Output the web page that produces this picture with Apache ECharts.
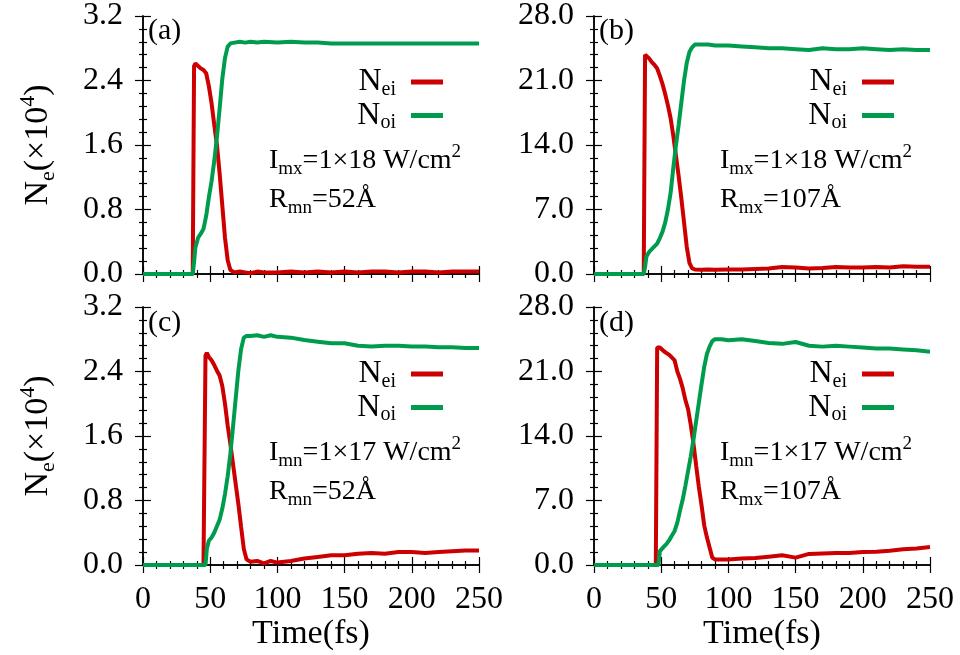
<!DOCTYPE html>
<html>
<head>
<meta charset="utf-8">
<script src="https://cdn.jsdelivr.net/npm/echarts@6/dist/echarts.min.js"></script>
<style>
html,body{margin:0;padding:0;background:#fff;}
#main{width:960px;height:655px;}
</style>
</head>
<body>
<div id="main"></div>
<script>
// ---------- data ----------
const xTicks = [0, 50, 100, 150, 200, 250];
const ySmallTicks = [0.0, 0.8, 1.6, 2.4, 3.2];
const yLargeTicks = [0.0, 7.0, 14.0, 21.0, 28.0];

// panel (a)
const tA   = [0,10,20,30,37,38,39,41,43,45,47,49,51,53,55,57,59,61,63,65,68,72,76,80,85,90,100,110,120,130,140,150,160,170,180,190,200,210,220,230,240,250];
const neiA = [0,0,0,0,0,2.58,2.61,2.58,2.55,2.53,2.49,2.33,2.12,1.85,1.60,1.25,0.85,0.45,0.17,0.05,0.02,0.03,0.02,0.01,0.03,0.02,0.02,0.03,0.02,0.03,0.02,0.03,0.02,0.03,0.03,0.02,0.03,0.03,0.02,0.03,0.03,0.03];
const noiA = [0,0,0,0,0,0.15,0.33,0.45,0.50,0.56,0.72,0.95,1.15,1.40,1.70,2.05,2.42,2.68,2.82,2.86,2.87,2.88,2.87,2.88,2.87,2.88,2.87,2.88,2.87,2.87,2.86,2.86,2.86,2.86,2.86,2.86,2.86,2.86,2.86,2.86,2.86,2.86];

// panel (b)
const tB   = [0,10,20,30,37,38,39,41,43,45,47,49,51,53,55,57,59,61,63,65,67,69,71,73,75,80,85,90,100,110,120,130,140,150,160,170,180,190,200,210,220,230,240,250];
const neiB = [0,0,0,0,0,23.8,23.9,23.4,23.0,22.7,22.3,21.5,20.6,19.5,18.3,16.9,15.0,12.8,10.6,8.2,5.6,2.95,1.2,0.6,0.5,0.45,0.5,0.45,0.5,0.5,0.55,0.6,0.75,0.7,0.6,0.65,0.75,0.7,0.7,0.75,0.7,0.85,0.8,0.8];
const noiB = [0,0,0,0,0,0.8,1.9,2.4,2.7,3.0,3.3,3.9,4.6,5.6,7.0,8.8,11.5,14.0,16.2,18.6,21.0,22.9,24.1,24.6,24.9,24.9,24.9,24.8,24.8,24.7,24.6,24.5,24.5,24.4,24.3,24.5,24.4,24.4,24.5,24.4,24.3,24.4,24.3,24.3];

// panel (c)
const tC   = [0,10,20,30,40,45,46.5,47.5,49,51,53,55,57,59,61,63,65,67,69,71,73,75,77,80,85,90,95,100,110,120,130,140,150,160,170,180,190,200,210,220,230,240,250];
const neiC = [0,0,0,0,0,0,2.60,2.63,2.58,2.54,2.48,2.41,2.35,2.22,2.00,1.73,1.50,1.25,1.00,0.75,0.47,0.20,0.07,0.04,0.05,0.02,0.05,0.03,0.05,0.08,0.10,0.12,0.12,0.14,0.15,0.14,0.16,0.16,0.15,0.16,0.17,0.18,0.18];
const noiC = [0,0,0,0,0,0,0,0.2,0.30,0.34,0.40,0.48,0.56,0.70,0.88,1.10,1.38,1.72,2.07,2.42,2.68,2.82,2.84,2.84,2.85,2.83,2.85,2.83,2.82,2.79,2.77,2.75,2.75,2.72,2.71,2.72,2.72,2.71,2.71,2.70,2.70,2.69,2.69];

// panel (d)
const tD   = [0,10,20,30,40,46,47,48,49,50,52,54,56,58,60,62,64,66,68,70,72,74,76,78,80,82,84,86,88,90,95,100,110,120,130,140,150,160,170,180,190,200,210,220,230,240,250];
const neiD = [0,0,0,0,0,0,23.6,23.7,23.6,23.4,23.2,23.0,22.8,22.5,22.2,21.0,20.2,19.2,17.9,16.9,15.2,13.2,10.8,8.5,6.5,4.3,3.0,1.9,0.8,0.6,0.6,0.6,0.7,0.75,0.9,1.05,0.8,1.2,1.25,1.3,1.3,1.4,1.45,1.55,1.7,1.8,1.95];
const noiD = [0,0,0,0,0,0,0,0,1.5,1.7,2.0,2.3,2.7,3.2,3.7,4.6,5.9,7.1,8.6,10.2,11.8,13.6,15.6,17.6,19.6,21.5,22.9,23.7,24.3,24.5,24.5,24.4,24.5,24.3,24.1,24.0,24.2,23.8,23.7,23.8,23.7,23.6,23.5,23.5,23.4,23.3,23.15];

const panelLabels = ['(a)', '(b)', '(c)', '(d)'];
const intensityText = ['{n|I}{s|mx}{n|=1×18 W/cm}{p|2}', '{n|I}{s|mx}{n|=1×18 W/cm}{p|2}', '{n|I}{s|mn}{n|=1×17 W/cm}{p|2}', '{n|I}{s|mn}{n|=1×17 W/cm}{p|2}'];
const radiusText = ['{n|R}{s|mn}{n|=52Å}', '{n|R}{s|mx}{n|=107Å}', '{n|R}{s|mn}{n|=52Å}', '{n|R}{s|mx}{n|=107Å}'];

// ---------- styling ----------
const FONT = "'Liberation Serif', 'Times New Roman', serif";
const RED = '#cc0000';
const GREEN = '#009c4e';
const grids = [
  {left:143, top:15,  width:336, height:259},
  {left:594, top:15,  width:336, height:259},
  {left:143, top:307, width:336, height:258},
  {left:594, top:307, width:336, height:258}
];
const yMax = [3.2, 28, 3.2, 28];
const yInt = [0.8, 7, 0.8, 7];

function pairs(t, v){ return t.map((x,i)=>[x, v[i]]); }
const panelData = [[tA,neiA,noiA],[tB,neiB,noiB],[tC,neiC,noiC],[tD,neiD,noiD]];

const axisLine = {show:true, lineStyle:{color:'#000', width:1.5}};
const tick = {show:true, inside:true, length:8, lineStyle:{color:'#000', width:1.2}};
const minor = {show:true, splitNumber:5, length:4, lineStyle:{color:'#000', width:1.2}};

const xAxes = [], yAxes = [], series = [], legends = [];
for (let i=0;i<4;i++){
  const bottomRow = i>=2;
  xAxes.push({
    gridIndex:i, type:'value', min:xTicks[0], max:xTicks[xTicks.length-1], interval:50, position:'bottom',
    axisLine, axisTick:tick, minorTick:minor, splitLine:{show:false},
    axisLabel:{show:bottomRow, margin:19, color:'#000', fontFamily:FONT, fontSize:32},
    name: bottomRow ? 'Time(fs)' : '', nameLocation:'middle', nameGap:50,
    nameTextStyle:{color:'#000', fontFamily:FONT, fontSize:34}
  });
  xAxes.push({
    gridIndex:i, type:'value', min:0, max:250, interval:50, position:'top',
    axisLine, axisTick:tick, minorTick:minor, splitLine:{show:false}, axisLabel:{show:false}
  });
  const ticks = (i%2===0) ? ySmallTicks : yLargeTicks;
  yAxes.push({
    gridIndex:i, type:'value', min:ticks[0], max:ticks[ticks.length-1], interval:yInt[i], position:'left',
    axisLine, axisTick:tick, minorTick:minor, splitLine:{show:false},
    axisLabel:{margin:20, color:'#000', fontFamily:FONT, fontSize:32, formatter:v=>v.toFixed(1)},
    name: (i%2===0) ? '{n|N}{s|e}{n|(×10}{p|4}{n|)}' : '', nameLocation:'middle', nameRotate:90, nameGap:84,
    nameTextStyle:{rich:{
      n:{fontFamily:FONT, fontSize:34, color:'#000', lineHeight:42, verticalAlign:'middle'},
      s:{fontFamily:FONT, fontSize:22, color:'#000', lineHeight:18, verticalAlign:'bottom'},
      p:{fontFamily:FONT, fontSize:22, color:'#000', lineHeight:26, verticalAlign:'top'}
    }}
  });
  yAxes.push({
    gridIndex:i, type:'value', min:0, max:yMax[i], interval:yInt[i], position:'right',
    axisLine, axisTick:tick, minorTick:minor, splitLine:{show:false}, axisLabel:{show:false}
  });
  const [t, nei, noi] = panelData[i];
  series.push({name:'Nei', type:'line', xAxisIndex:2*i, yAxisIndex:2*i, data:pairs(t,nei), showSymbol:false, symbol:'none', clip:false,
    lineStyle:{color:RED, width:4}, itemStyle:{color:RED}});
  series.push({name:'Noi', type:'line', xAxisIndex:2*i, yAxisIndex:2*i, data:pairs(t,noi), showSymbol:false, symbol:'none', clip:false,
    lineStyle:{color:GREEN, width:4}, itemStyle:{color:GREEN}});
  const g = grids[i];
  legends.push({
    data:['Nei','Noi'], orient:'vertical', align:'right', icon:'rect', itemWidth:32, itemHeight:5, itemGap:0, padding:0,
    right: 960 - (g.left + g.width) + 36, top: g.top + 51, selectedMode:false,
    formatter: n => n==='Nei' ? '{n|N}{s|ei}' : '{n|N}{s|oi}',
    textStyle:{rich:{
      n:{fontFamily:FONT, fontSize:32, color:'#000', lineHeight:35, verticalAlign:'middle'},
      s:{fontFamily:FONT, fontSize:20, color:'#000', lineHeight:14, verticalAlign:'bottom', padding:[0,10,0,0]}
    }}
  });
}

const graphics = [];
const annRich = {
  n:{fontFamily:FONT, fontSize:28, fill:'#000', lineHeight:36, verticalAlign:'middle'},
  s:{fontFamily:FONT, fontSize:19, fill:'#000', lineHeight:14, verticalAlign:'bottom'},
  p:{fontFamily:FONT, fontSize:19, fill:'#000', lineHeight:22, verticalAlign:'top'}
};
for (let i=0;i<4;i++){
  const g = grids[i];
  graphics.push({type:'text', left:g.left+5, top:g.top+1, style:{text:panelLabels[i], font:'30px '+FONT, fill:'#000'}});
  graphics.push({type:'text', x:g.left+126, y:g.top+146, style:{text:intensityText[i], rich:annRich, fill:'#000', verticalAlign:'middle', align:'left'}});
  graphics.push({type:'text', x:g.left+126, y:g.top+185, style:{text:radiusText[i], rich:annRich, fill:'#000', verticalAlign:'middle', align:'left'}});
}

const chart = echarts.init(document.getElementById('main'), null, {renderer:'canvas'});
chart.setOption({
  animation:false,
  backgroundColor:'#fff',
  grid:grids,
  xAxis:xAxes,
  yAxis:yAxes,
  legend:legends,
  series,
  graphic:graphics
});
</script>
</body>
</html>
